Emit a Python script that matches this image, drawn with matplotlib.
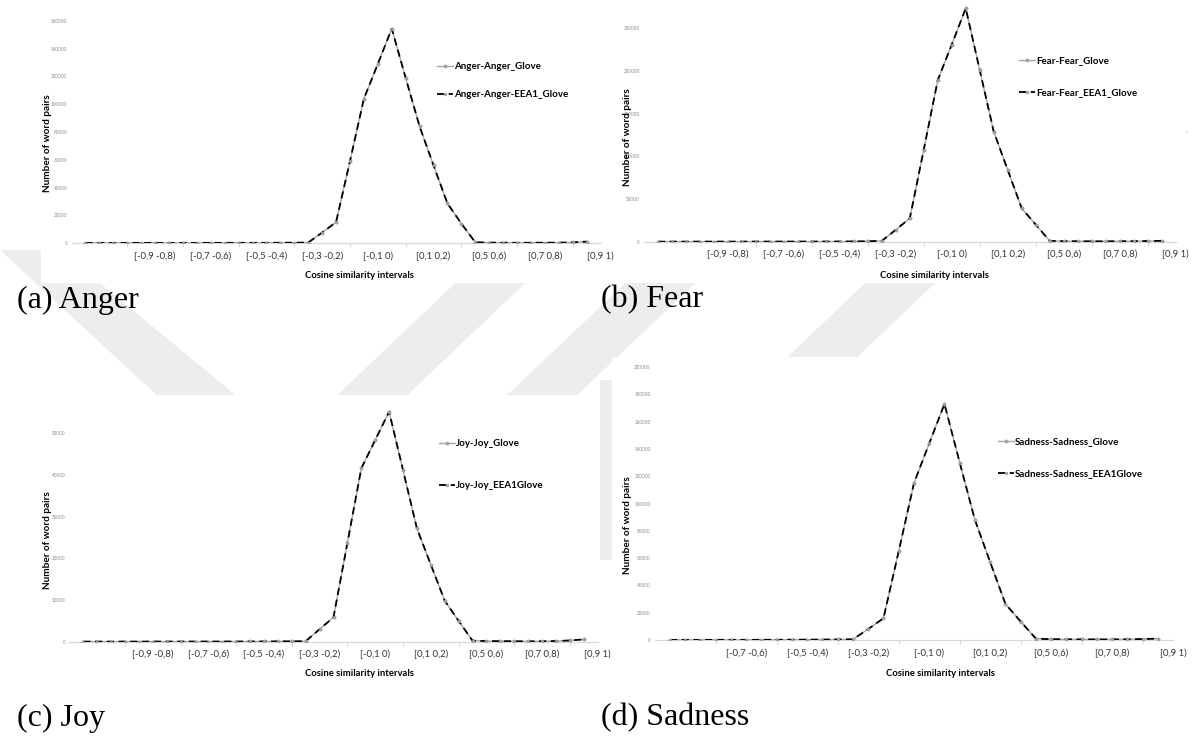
import matplotlib
matplotlib.use("Agg")
import numpy as np
import matplotlib.pyplot as plt
from matplotlib.patches import Rectangle, Polygon

# ---- data -------------------------------------------------------------
interval_labels = ["[-0,9 -0,8)", "[-0,7 -0,6)", "[-0,5 -0,4)", "[-0,3 -0,2)",
                   "[-0,1 0)", "[0,1 0,2)", "[0,5 0,6)", "[0,7 0,8)", "[0,9 1)"]
sadness_labels = interval_labels[1:]

anger_glove = [60, 70, 60, 80, 70, 90, 80, 100, 90, 110, 120, 110, 130, 150, 180, 220,
               300, 7500, 15000, 59000, 104000, 129000, 154500, 119000, 84000, 56000,
               28500, 14000, 500, 250, 200, 180, 200, 220, 250, 400, 1000]
anger_eea1 = [60, 70, 60, 80, 70, 90, 80, 100, 90, 110, 120, 110, 130, 150, 180, 220,
              300, 7500, 15000, 59000, 104000, 129000, 154500, 119000, 84000, 56000,
              28500, 14000, 500, 250, 200, 180, 200, 220, 250, 400, 1000]

fear_glove = [80, 90, 80, 100, 90, 110, 100, 130, 120, 150, 160, 150, 180, 220, 300, 500,
              1000, 14000, 27400, 108000, 189400, 231000, 273400, 201000, 128900, 84000,
              39100, 20000, 1000, 600, 500, 400, 400, 500, 600, 800, 1000]
fear_eea1 = [80, 90, 80, 100, 90, 110, 100, 130, 120, 150, 160, 150, 180, 220, 300, 500,
             1000, 14000, 27400, 108000, 189400, 231000, 273400, 201000, 128900, 84000,
             39100, 20000, 1000, 600, 500, 400, 400, 500, 600, 800, 1000]

joy_glove = [20, 25, 20, 30, 25, 30, 30, 35, 30, 40, 40, 45, 50, 60, 70, 90,
             120, 3000, 5850, 23700, 41600, 48400, 55200, 41200, 27200, 18500,
             9840, 5000, 250, 150, 120, 100, 90, 100, 150, 300, 550]
joy_eea1 = [20, 25, 20, 30, 25, 30, 30, 35, 30, 40, 40, 45, 50, 60, 70, 90,
            120, 3000, 5850, 23700, 41600, 48400, 55200, 41200, 27200, 18500,
            9840, 5000, 250, 150, 120, 100, 90, 100, 150, 300, 550]

sadness_glove = [80, 90, 100, 110, 120, 130, 150, 180, 220, 260, 300, 400,
                 500, 8000, 15900, 65000, 114800, 144000, 172900, 130000, 87900, 57000,
                 26400, 13500, 1000, 600, 500, 450, 400, 450, 500, 700, 1000]
sadness_eea1 = [80, 90, 100, 110, 120, 130, 150, 180, 220, 260, 300, 400,
                500, 8000, 15900, 65000, 114800, 144000, 172900, 130000, 87900, 57000,
                26400, 13500, 1000, 600, 500, 450, 400, 450, 500, 700, 1000]

W, H = 1198, 749
GREY_LINE = "#a6a6a6"
AXIS_GREY = "#d9d9d9"
WATERMARK = "#ededed"

plt.rcParams["font.family"] = ["Lato", "DejaVu Sans"]

fig = plt.figure(figsize=(W / 100, H / 100), dpi=100)


def fx(px):
    return px / W


def fy(py):
    return 1 - py / H


def rect(x0, y0, x1, y1):
    """pixel box (top-left origin) -> figure fraction rect"""
    return [fx(x0), fy(y1), fx(x1) - fx(x0), fy(y0) - fy(y1)]


# background watermark, mostly hidden behind the chart images
bands = [
    [(0, 250), (60, 250), (290, 440), (205, 440)],
    [(290, 440), (360, 440), (560, 250), (490, 250)],
    [(460, 440), (530, 440), (730, 250), (660, 250)],
    [(700, 440), (770, 440), (970, 250), (900, 250)],
    [(600, 380), (612, 380), (612, 560), (600, 560)],
]
for pts in bands:
    fig.patches.append(Polygon([(fx(x), fy(y)) for x, y in pts], closed=True,
                               transform=fig.transFigure, facecolor=WATERMARK,
                               edgecolor="none", zorder=0))

# white chart image boxes
for x0, y0, x1, y1 in [(41, 0, 608, 283), (613, 0, 1198, 283),
                       (41, 395, 600, 700), (612, 357, 1198, 700)]:
    fig.patches.append(Rectangle((fx(x0), fy(y1)), fx(x1) - fx(x0), fy(y0) - fy(y1),
                                 transform=fig.transFigure, facecolor="white",
                                 edgecolor="none", zorder=1))


def draw_panel(box, glove, eea1, names, xlabels, ymax, ystep, ytop_label,
               ytitle_xy, xtitle_xy, legend_xy, spacing):
    ax = fig.add_axes(rect(*box))
    ax.set_zorder(5)
    ax.set_facecolor("none")
    x = np.arange(1, len(glove) + 1)
    ax.plot(x, glove, color=GREY_LINE, lw=1.0, marker="o", ms=1.8,
            mfc=GREY_LINE, mec=GREY_LINE, label=names[0], zorder=3)
    ax.plot(x, eea1, color="black", lw=1.3, ls=(0, (4, 2.5)), marker="o", ms=1.4,
            mfc="#a0a0a0", mec="#a0a0a0", label=names[1], zorder=4)

    ax.set_xlim(0, len(glove) + 1)
    ax.set_ylim(0, ymax)
    ax.set_yticks(np.arange(0, ytop_label + 1, ystep))
    ax.yaxis.set_major_formatter(plt.FuncFormatter(lambda v, p: f"{int(v)}"))
    ax.tick_params(axis="y", length=0, labelsize=3.3, labelcolor="#8c8c8c", pad=3)

    ax.set_xticks(np.arange(4, len(glove) + 1, 4))
    ax.set_xticks(np.arange(6, 6 + 4 * len(xlabels), 4), minor=True)
    ax.set_xticklabels([], minor=False)
    ax.set_xticklabels(xlabels, minor=True)
    ax.tick_params(axis="x", which="major", length=3, color=AXIS_GREY, width=0.8)
    ax.tick_params(axis="x", which="minor", length=0, labelsize=6.8,
                   labelcolor="#333333", pad=6)

    for side in ("top", "right", "left"):
        ax.spines[side].set_visible(False)
    ax.spines["bottom"].set_color(AXIS_GREY)
    ax.spines["bottom"].set_linewidth(0.9)

    fig.text(fx(ytitle_xy[0]), fy(ytitle_xy[1]), "Number of word pairs",
             rotation=90, ha="center", va="center", fontsize=7.2, fontweight="bold",
             zorder=6)
    fig.text(fx(xtitle_xy[0]), fy(xtitle_xy[1]), "Cosine similarity intervals",
             ha="center", va="center", fontsize=6.8, fontweight="bold", zorder=6)

    leg = ax.legend(loc="upper left", bbox_to_anchor=(fx(legend_xy[0]), fy(legend_xy[1])),
                    bbox_transform=fig.transFigure, frameon=False, fontsize=7.0,
                    handlelength=1.6, handletextpad=0.15, labelspacing=spacing,
                    borderpad=0, borderaxespad=0, numpoints=1)
    for t in leg.get_texts():
        t.set_fontweight("bold")
    return ax


draw_panel((71.5, 21, 600.6, 243), anger_glove, anger_eea1,
           ["Anger-Anger_Glove", "Anger-Anger-EEA1_Glove"], interval_labels,
           160000, 20000, 160000, (48, 143), (359, 276), (437, 62), 2.0)
draw_panel((644, -14.4, 1175.6, 241.7), fear_glove, fear_eea1,
           ["Fear-Fear_Glove", "Fear-Fear_EEA1_Glove"], interval_labels,
           300000, 50000, 250000, (627, 137), (934, 276), (1019, 56), 2.4)
draw_panel((69.4, 391.7, 597.6, 641.7), joy_glove, joy_eea1,
           ["Joy-Joy_Glove", "Joy-Joy_EEA1Glove"], interval_labels,
           60000, 10000, 50000, (48, 540), (359, 674), (439, 439), 3.4)
draw_panel((654.7, 367, 1173.2, 640), sadness_glove, sadness_eea1,
           ["Sadness-Sadness_Glove", "Sadness-Sadness_EEA1Glove"], sadness_labels,
           200000, 20000, 200000, (627, 525), (940, 673), (998, 437), 2.4)

# small handle glyph at the right edge of the fear chart image
fig.text(fx(1187), fy(132), "‹", ha="center", va="center", fontsize=5,
         color="#bdbdbd", zorder=6)

# sub-figure captions
for px, py, txt in [(17, 300, "(a) Anger"), (601, 300, "(b) Fear"),
                    (17, 718, "(c) Joy"), (601, 718, "(d) Sadness")]:
    fig.text(fx(px), fy(py), txt, ha="left", va="center",
             family="Liberation Serif", fontsize=23, zorder=6)

fig.savefig("out.png", dpi=100)
